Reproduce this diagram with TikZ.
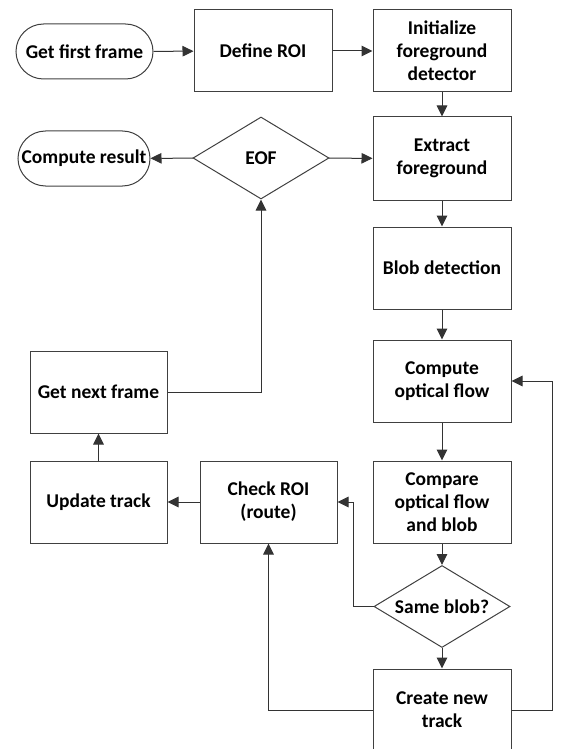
\documentclass[tikz,border=0pt]{standalone}
\usepackage{fontspec}
\setmainfont{Carlito}
\usetikzlibrary{shapes.geometric,arrows.meta}

\begin{document}
\begin{tikzpicture}[x=1pt,y=-1pt,
    font=\fontsize{19.5}{23}\selectfont\bfseries,
    every node/.style={line width=1pt,draw=black!75,text=black,align=center,inner sep=0pt},
    box/.style={rectangle,minimum width=138pt,minimum height=82pt},
    term/.style={rectangle,rounded corners=27.5pt,minimum height=55pt},
    test/.style={diamond,aspect=1.66,minimum width=136pt,minimum height=82pt},
    flow/.style={line width=1pt,draw=black!80,-{Triangle[width=10.5pt,length=11pt]}}]

  \useasboundingbox (0,0) rectangle (564,749);
  \clip (0,0) rectangle (564,749);

  % top row
  \node [term,minimum width=137pt] (first) at (84.5,51.5) {Get first frame};
  \node [box] (roi) at (263,51) {Define ROI};
  \node [box] (init) at (442,51) {Initialize\\foreground\\detector};

  % second row
  \node [term,minimum width=132pt] (result) at (84,158.5) {Compute result};
  \node [test] (eof) at (261,158) {EOF};
  \node [box,minimum height=83pt] (extract) at (442,158.5) {Extract\\foreground};

  % right column
  \node [box] (blob) at (442,268) {Blob detection};
  \node [box] (optflow) at (442,381) {Compute\\optical flow};
  \node [box] (compare) at (442,502) {Compare\\optical flow\\and blob};
  \node [test] (same) at (442,606.5) {Same blob?};
  \node [box] (create) at (442,710) {Create new\\track};

  % left part
  \node [box,minimum width=137pt] (next) at (98.5,392) {Get next frame};
  \node [box,minimum width=137pt] (update) at (98.5,502) {Update track};
  \node [box,minimum width=137pt] (check) at (268.5,502) {Check ROI\\(route)};

  \coordinate (sameturn) at (353,502);
  \coordinate (loopturn) at (552,381);

  \draw [flow] (first) -- (roi);
  \draw [flow] (roi) -- (init);
  \draw [flow] (init) -- (extract);
  \draw [flow] (eof) -- (extract);
  \draw [flow] (eof) -- (result);
  \draw [flow] (extract) -- (blob);
  \draw [flow] (blob) -- (optflow);
  \draw [flow] (optflow) -- (compare);
  \draw [flow] (compare) -- (same);
  \draw [flow] (same) -- (create);
  \draw [flow] (next.east) -| (eof.south);
  \draw [flow] (update) -- (next);
  \draw [flow] (check) -- (update);
  \draw [flow] (same.west) -| (sameturn) -- (check.east);
  \draw [flow] (create.west) -| (check.south);
  \draw [flow] (create.east) -| (loopturn) -- (optflow.east);
\end{tikzpicture}
\end{document}
